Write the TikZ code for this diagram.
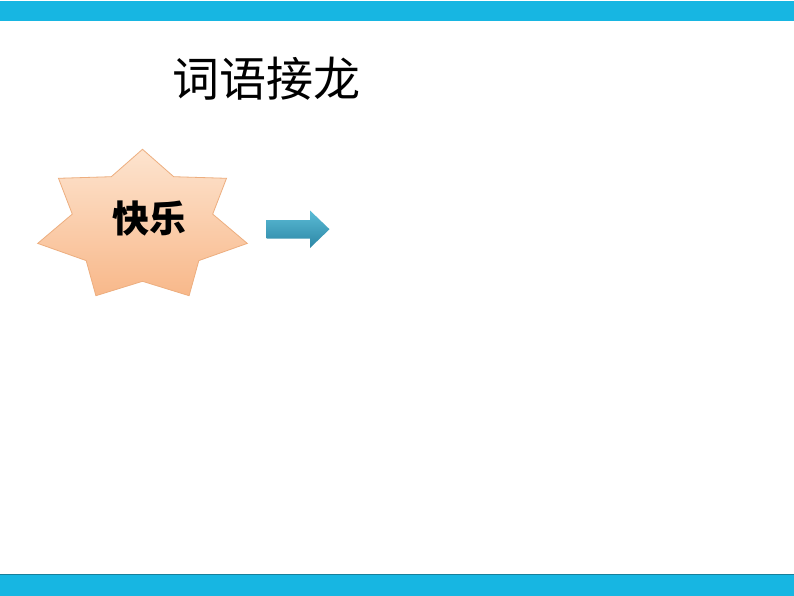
\documentclass[tikz,border=0pt]{standalone}
\usepackage{fontspec}
\newfontfamily\cjk{Noto Sans CJK SC}
\usetikzlibrary{shadings}
\definecolor{barblue}{HTML}{17B6E2}
\definecolor{bardark}{HTML}{1A7F9A}
\definecolor{startop}{HTML}{FDE4CF}
\definecolor{starbot}{HTML}{F8B88A}
\definecolor{starline}{HTML}{EDAE7F}
\definecolor{arrtop}{HTML}{5BBCD6}
\definecolor{arrbot}{HTML}{2C86A5}
\tikzset{
  bar/.style={fill=barblue, draw=none},
  starshape/.style={top color=startop, bottom color=starbot, draw=starline, line width=0.8pt, line join=miter},
  arrowshape/.style={top color=arrtop, bottom color=arrbot, draw=none},
  titletext/.style={font=\cjk\fontsize{47}{52}\selectfont, inner sep=0pt},
  startext/.style={font=\cjk\bfseries\fontsize{37}{42}\selectfont, inner sep=0pt},
}
\begin{document}
\begin{tikzpicture}[x=1pt,y=-1pt]
\useasboundingbox (0,0) rectangle (794,596);
\fill[white] (0,0) rectangle (794,596);
% bars
\path[bar] (0,1) rectangle (794,21);
\path[bar] (0,574) rectangle (794,596);
\draw[bardark, line width=1.2pt] (0,574.5) -- (794,574.5);
% title
\node[titletext] (title) at (266.5,79) {词语接龙};
% star
\shadedraw[starshape] (142.5,149.3) -- (111.3,176.7) -- (58.5,178.3) -- (72.3,214.1)
  -- (37.7,243.4) -- (86.2,260.6) -- (95.9,295.7) -- (142.5,281.3) -- (189.1,295.7)
  -- (198.8,260.6) -- (247.3,243.4) -- (212.7,214.1) -- (226.5,178.3) -- (173.7,176.7) -- cycle;
\node[startext] (word) at (149.5,219) {快乐};
% arrow
\shade[arrowshape] (266.5,220) -- (310,220) -- (310,210.5) -- (329.5,229.2) -- (310,248)
  -- (310,238.5) -- (266.5,238.5) -- cycle;
\end{tikzpicture}
\end{document}
